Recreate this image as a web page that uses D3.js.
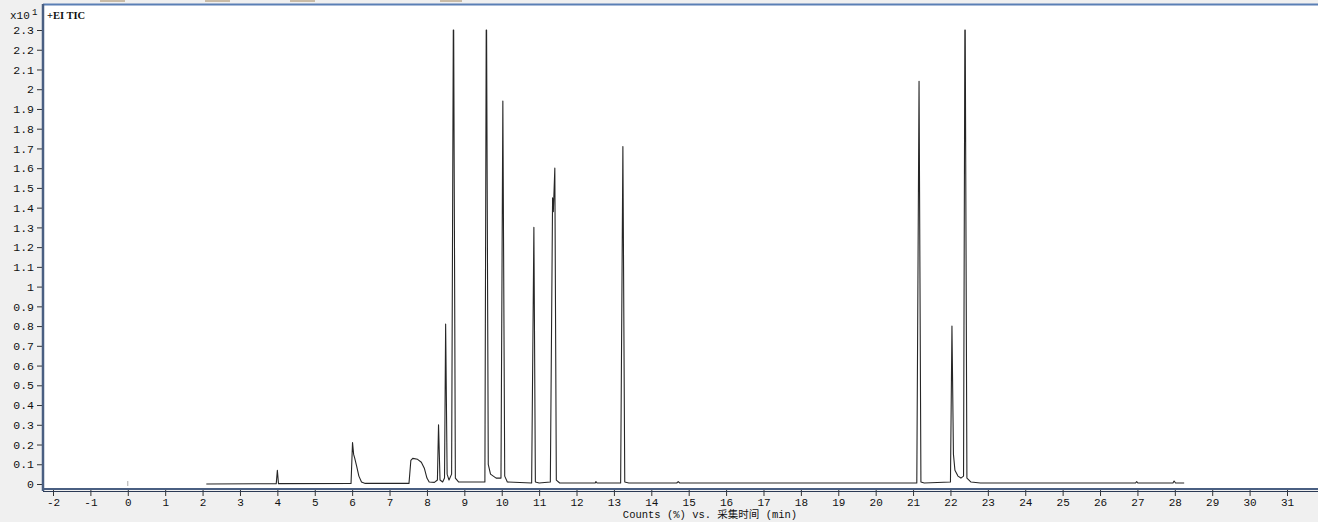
<!DOCTYPE html>
<html><head><meta charset="utf-8">
<script src="https://cdn.jsdelivr.net/npm/d3@7"></script>
<style>
html,body{margin:0;padding:0;background:#f0f0f0;}
svg{display:block;}
</style></head>
<body>
<svg id="chart" width="1318" height="522"></svg>
<script>
// Retention time (min) and TIC counts (x10^1)
const timeMin = [2.10,3.97,4.00,4.03,5.97,6.01,6.04,6.07,6.12,6.18,6.25,6.35,7.52,7.57,7.62,7.75,7.85,7.93,8.00,8.06,8.20,8.28,8.31,8.35,8.42,8.47,8.50,8.54,8.59,8.66,8.705,8.715,8.76,8.85,9.55,9.585,9.595,9.64,9.70,9.85,9.98,10.03,10.08,10.15,10.80,10.86,10.90,11.00,11.30,11.36,11.38,11.42,11.46,11.55,12.50,12.52,12.55,13.18,13.24,13.29,13.40,14.68,14.72,14.76,21.10,21.16,21.21,21.30,22.00,22.04,22.08,22.12,22.20,22.28,22.35,22.385,22.395,22.44,22.55,22.80,26.95,26.98,27.01,27.95,27.98,28.02,28.25];
const counts = [0,0.002,0.07,0.002,0.003,0.21,0.15,0.13,0.09,0.04,0.01,0.003,0.003,0.12,0.13,0.125,0.11,0.08,0.03,0.01,0.008,0.02,0.30,0.02,0.01,0.03,0.81,0.05,0.02,0.05,2.30,2.30,0.03,0.01,0.01,2.30,2.30,0.10,0.05,0.03,0.03,1.94,0.04,0.01,0.005,1.30,0.01,0.005,0.01,1.45,1.38,1.60,0.02,0.005,0.005,0.012,0.005,0.005,1.71,0.01,0.005,0.005,0.012,0.005,0.005,2.04,0.01,0.005,0.01,0.80,0.15,0.07,0.04,0.03,0.04,2.30,2.30,0.03,0.01,0.005,0.005,0.012,0.005,0.005,0.015,0.005,0.005];
const xTickValues = [-2,-1,0,1,2,3,4,5,6,7,8,9,10,11,12,13,14,15,16,17,18,19,20,21,22,23,24,25,26,27,28,29,30,31];
const yTickValues = [0,0.1,0.2,0.3,0.4,0.5,0.6,0.7,0.8,0.9,1,1.1,1.2,1.3,1.4,1.5,1.6,1.7,1.8,1.9,2,2.1,2.2,2.3];
const yExponentLabel = "x10";
const yExponent = "1";
const traceLabel = "+EI TIC";
const xTitle = "Counts (%) vs. 采集时间 (min)";

const svg = d3.select("#chart");
const plot = {left: 43, right: 1318, top: 4, bottom: 489};

const x = d3.scaleLinear().domain([-2, 31]).range([53, 1287]);
const y = d3.scaleLinear().domain([0, 2.3]).range([484, 30]);

// toolbar remnants at top
[[100,125],[205,230],[290,315],[440,462]].forEach(([a,b])=>{
  svg.append("rect").attr("x",a).attr("y",0).attr("width",b-a).attr("height",2).attr("fill","#c9bba6");
});

// plot area
svg.append("rect").attr("x",plot.left).attr("y",plot.top).attr("width",plot.right-plot.left).attr("height",plot.bottom-plot.top).attr("fill","#ffffff");
svg.append("line").attr("x1",plot.left).attr("x2",plot.right).attr("y1",plot.top+0.5).attr("y2",plot.top+0.5).attr("stroke","#5a7fb5").attr("stroke-width",2);

const font = "'Liberation Mono', 'DejaVu Sans Mono', monospace";

// small mark at x=0
svg.append("line").attr("x1",x(0)).attr("x2",x(0)).attr("y1",481).attr("y2",486).attr("stroke","#aaa").attr("stroke-width",1);

// trace
const line = d3.line().x((d,i)=>x(timeMin[i])).y((d,i)=>y(counts[i]));
svg.append("path").datum(counts).attr("d",line).attr("fill","none").attr("stroke","#262626").attr("stroke-width",1.1).attr("stroke-linejoin","round");

// y axis
const yAxis = d3.axisLeft(y).tickValues(yTickValues).tickSize(5).tickPadding(3).tickFormat(d=>d3.format("~g")(d));
const gy = svg.append("g").attr("transform",`translate(${plot.left-1},0)`).call(yAxis);
gy.select(".domain").remove();
gy.selectAll(".tick line").attr("stroke","#333");
gy.selectAll(".tick text").attr("font-family",font).attr("font-size","11.5px").attr("fill","#111");
svg.append("line").attr("x1",plot.left).attr("x2",plot.left).attr("y1",plot.top).attr("y2",plot.bottom+2).attr("stroke","#4a5f82").attr("stroke-width",2.5);

// x axis
const xAxis = d3.axisBottom(x).tickValues(xTickValues).tickSize(6).tickPadding(2).tickFormat(d=>d3.format("d")(d).replace("−","-"));
const gx = svg.append("g").attr("transform",`translate(0,${plot.bottom+1})`).call(xAxis);
gx.select(".domain").remove();
gx.selectAll(".tick line").attr("stroke","#333");
gx.selectAll(".tick text").attr("font-family",font).attr("font-size","11px").attr("fill","#111");
svg.append("line").attr("x1",plot.left).attr("x2",plot.right).attr("y1",plot.bottom).attr("y2",plot.bottom).attr("stroke","#4a5f82").attr("stroke-width",2);
svg.append("line").attr("x1",plot.left).attr("x2",plot.right).attr("y1",plot.bottom+2.5).attr("y2",plot.bottom+2.5).attr("stroke","#2b3a55").attr("stroke-width",1);

// labels
svg.append("text").attr("x",10).attr("y",19).attr("font-family",font).attr("font-size","11px").attr("fill","#111").text(yExponentLabel);
svg.append("text").attr("x",32).attr("y",15).attr("font-family",font).attr("font-size","9px").attr("fill","#111").text(yExponent);
svg.append("text").attr("x",47).attr("y",19).attr("font-family","'Liberation Serif', serif").attr("font-size","10.5px").attr("font-weight","bold").attr("fill","#111").text(traceLabel);
svg.append("text").attr("x",710).attr("y",518).attr("text-anchor","middle").attr("font-family",font+", 'Noto Sans CJK SC'").attr("font-size","10.5px").attr("fill","#111").text(xTitle);
</script>
</body></html>
